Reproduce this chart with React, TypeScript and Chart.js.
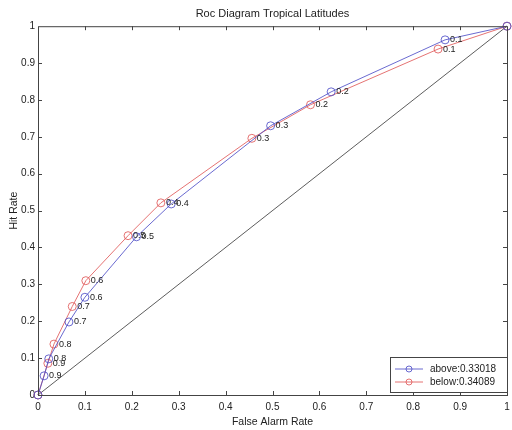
import { useEffect, useRef } from "react";
import { Chart, registerables } from "chart.js";
Chart.register(...registerables);

const thresholds = ["", "0.9", "0.8", "0.7", "0.6", "0.5", "0.4", "0.3", "0.2", "0.1", ""];
const aboveFAR = [0, 0.013, 0.023, 0.066, 0.1, 0.21, 0.284, 0.496, 0.625, 0.868, 1];
const aboveHR = [0, 0.052, 0.098, 0.198, 0.265, 0.429, 0.518, 0.73, 0.822, 0.963, 1];
const belowFAR = [0, 0.021, 0.034, 0.073, 0.102, 0.192, 0.262, 0.456, 0.581, 0.853, 1];
const belowHR = [0, 0.086, 0.138, 0.24, 0.31, 0.432, 0.521, 0.696, 0.787, 0.938, 1];
const diagX = [0, 1];
const diagY = [0, 1];
const seriesNames = ["above:0.33018", "below:0.34089"];
const axisTicks = [0.1, 0.2, 0.3, 0.4, 0.5, 0.6, 0.7, 0.8, 0.9];

const FONT = "'Liberation Sans', Arial, sans-serif";
const BLUE = "rgba(80,80,200,0.85)";
const RED = "rgba(225,90,90,0.85)";
const fmt = (v: any) => String(Math.round(Number(v) * 10) / 10);

export default function App() {
  const ref = useRef<HTMLCanvasElement>(null);
  useEffect(() => {
    document.body.style.margin = "0";
    const canvas = ref.current!;
    const framePlugin = {
      id: "frame",
      afterDatasetsDraw(chart: any) {
        const { ctx, chartArea: a, scales } = chart;
        ctx.save();
        ctx.strokeStyle = "#444";
        ctx.lineWidth = 1;
        ctx.strokeRect(a.left + 0.5, a.top + 0.5, a.right - a.left, a.bottom - a.top);
        ctx.beginPath();
        for (const t of axisTicks) {
          const px = Math.round(scales.x.getPixelForValue(t)) + 0.5;
          ctx.moveTo(px, a.bottom);
          ctx.lineTo(px, a.bottom - 4);
          ctx.moveTo(px, a.top);
          ctx.lineTo(px, a.top + 4);
          const py = Math.round(scales.y.getPixelForValue(t)) + 0.5;
          ctx.moveTo(a.left, py);
          ctx.lineTo(a.left + 4, py);
          ctx.moveTo(a.right, py);
          ctx.lineTo(a.right - 4, py);
        }
        ctx.stroke();
        // threshold labels
        ctx.fillStyle = "#222";
        ctx.font = "9px " + FONT;
        ctx.textBaseline = "middle";
        ctx.textAlign = "left";
        [0, 1].forEach((di) => {
          const meta = chart.getDatasetMeta(di);
          meta.data.forEach((pt: any, i: number) => {
            const lbl = thresholds[i];
            if (lbl) ctx.fillText(lbl, pt.x + 5, pt.y);
          });
        });
        // legend
        const bx = 390, by = 357, bw = 117, bh = 35;
        ctx.fillStyle = "#fff";
        ctx.fillRect(bx, by, bw, bh);
        ctx.strokeStyle = "#444";
        ctx.strokeRect(bx + 0.5, by + 0.5, bw, bh);
        ctx.font = "10px " + FONT;
        [0, 1].forEach((di) => {
          const ds = chart.data.datasets[di];
          const y = by + 12 + di * 13;
          ctx.strokeStyle = ds.borderColor;
          ctx.lineWidth = 1;
          ctx.beginPath();
          ctx.moveTo(bx + 5, y);
          ctx.lineTo(bx + 33, y);
          ctx.stroke();
          ctx.beginPath();
          ctx.arc(bx + 19, y, 3, 0, Math.PI * 2);
          ctx.stroke();
          ctx.fillStyle = "#222";
          ctx.fillText(ds.label, bx + 40, y + 0.5);
        });
        ctx.restore();
      },
    };
    const chart = new Chart(canvas, {
      type: "line",
      data: {
        datasets: [
          {
            label: seriesNames[0],
            data: aboveFAR.map((x, i) => ({ x, y: aboveHR[i] })),
            borderColor: BLUE,
            borderWidth: 1,
            pointRadius: 4,
            pointBorderWidth: 1,
            pointBackgroundColor: "rgba(0,0,0,0)",
            pointBorderColor: BLUE,
            fill: false,
            tension: 0,
            clip: false,
          },
          {
            label: seriesNames[1],
            data: belowFAR.map((x, i) => ({ x, y: belowHR[i] })),
            borderColor: RED,
            borderWidth: 1,
            pointRadius: 4,
            pointBorderWidth: 1,
            pointBackgroundColor: "rgba(0,0,0,0)",
            pointBorderColor: RED,
            fill: false,
            tension: 0,
            clip: false,
          },
          {
            label: "diag",
            data: diagX.map((x, i) => ({ x, y: diagY[i] })),
            borderColor: "#333",
            borderWidth: 0.8,
            pointRadius: 0,
            fill: false,
          },
        ],
      },
      options: {
        responsive: false,
        animation: false,
        layout: { padding: { left: 0, right: 4, top: 0, bottom: 0 } },
        plugins: {
          legend: { display: false },
          tooltip: { enabled: false },
          title: {
            display: true,
            fullSize: false,
            text: "Roc Diagram Tropical Latitudes",
            color: "#222",
            font: { family: FONT, size: 11, weight: "normal" },
            padding: { top: 7, bottom: 6 },
          },
        },
        scales: {
          x: {
            type: "linear",
            min: 0,
            max: 1,
            grid: { display: false, drawTicks: false },
            border: { display: false },
            ticks: { stepSize: 0.1, color: "#222", font: { family: FONT, size: 10 }, padding: 6, maxRotation: 0, callback: fmt },
            title: { display: true, text: "False Alarm Rate", color: "#222", font: { family: FONT, size: 10.5 }, padding: { top: 0, bottom: 2 } },
            afterFit: (s: any) => { s.height = 35; s.paddingLeft = 0; s.paddingRight = 0; },
          },
          y: {
            type: "linear",
            min: 0,
            max: 1,
            grid: { display: false, drawTicks: false },
            border: { display: false },
            ticks: { stepSize: 0.1, color: "#222", font: { family: FONT, size: 10 }, padding: 3, callback: fmt },
            title: { display: true, text: "Hit Rate", color: "#222", font: { family: FONT, size: 10.5 }, padding: { top: 8, bottom: 0 } },
            afterFit: (s: any) => { s.width = 38; s.paddingTop = 0; s.paddingBottom = 0; },
          },
        },
      },
      plugins: [framePlugin],
    } as any);
    return () => chart.destroy();
  }, []);
  return (
    <div style={{ width: 512, height: 430, background: "#fff" }}>
      <canvas ref={ref} width={512} height={430} style={{ display: "block" }} />
    </div>
  );
}
